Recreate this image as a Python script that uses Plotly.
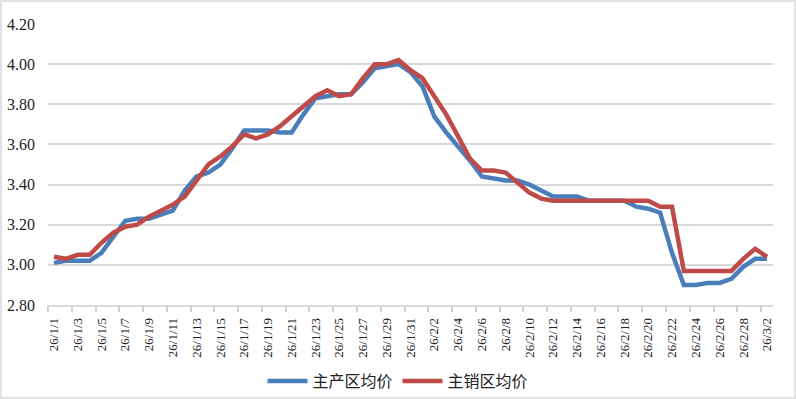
import pandas as pd
import plotly.graph_objects as go

# ---- data ----
dates = [f"26/{d.month}/{d.day}" for d in pd.date_range("2026-01-01", "2026-03-02", freq="D")]

main_prod = [3.01, 3.02, 3.02, 3.02, 3.06, 3.14, 3.22, 3.23, 3.23, 3.25,
             3.27, 3.37, 3.44, 3.46, 3.50, 3.58, 3.67, 3.67, 3.67, 3.66,
             3.66, 3.75, 3.83, 3.84, 3.85, 3.85, 3.91, 3.98, 3.99, 4.00,
             3.96, 3.89, 3.74, 3.66, 3.59, 3.52, 3.44, 3.43, 3.42, 3.42,
             3.40, 3.37, 3.34, 3.34, 3.34, 3.32, 3.32, 3.32, 3.32, 3.29,
             3.28, 3.26, 3.06, 2.90, 2.90, 2.91, 2.91, 2.93, 2.99, 3.03,
             3.03]

main_sales = [3.04, 3.03, 3.05, 3.05, 3.11, 3.16, 3.19, 3.20, 3.24, 3.27,
              3.30, 3.34, 3.42, 3.50, 3.54, 3.59, 3.65, 3.63, 3.65, 3.69,
              3.74, 3.79, 3.84, 3.87, 3.84, 3.85, 3.93, 4.00, 4.00, 4.02,
              3.97, 3.93, 3.84, 3.75, 3.64, 3.53, 3.47, 3.47, 3.46, 3.41,
              3.36, 3.33, 3.32, 3.32, 3.32, 3.32, 3.32, 3.32, 3.32, 3.32,
              3.32, 3.29, 3.29, 2.97, 2.97, 2.97, 2.97, 2.97, 3.03, 3.08,
              3.04]

series_names = ["主产区均价", "主销区均价"]
y_ticks = [2.80, 3.00, 3.20, 3.40, 3.60, 3.80, 4.00, 4.20]

# ---- figure ----
idx = list(range(len(dates)))
label_idx = idx[::2]
label_txt = [dates[i] for i in label_idx]
boundary_vals = [i - 0.5 for i in label_idx]

W, H = 796, 399
ML, MR, MT, MB = 48, 23, 24, 94
pw = W - ML - MR
ph = H - MT - MB

fig = go.Figure()
fig.add_trace(go.Scatter(x=idx, y=main_prod, name=series_names[0], mode="lines",
                         line=dict(color="#4a7ebb", width=4.5)))
fig.add_trace(go.Scatter(x=idx, y=main_sales, name=series_names[1], mode="lines",
                         line=dict(color="#be4b48", width=4.5)))
# invisible trace to carry the boundary tick axis
fig.add_trace(go.Scatter(x=[], y=[], xaxis="x2", showlegend=False, hoverinfo="skip"))

xr = [-0.5, len(dates) - 0.5]
serif = "Liberation Serif, Times New Roman, serif"

fig.update_layout(
    width=W, height=H,
    margin=dict(l=ML, r=MR, t=MT, b=MB, autoexpand=False),
    paper_bgcolor="white", plot_bgcolor="white",
    showlegend=True,
    legend=dict(orientation="h", xref="container", yref="container",
                x=0.5, xanchor="center", y=1 - 381 / H, yanchor="middle",
                font=dict(family="Noto Sans CJK SC", size=16, color="#222"),
                itemwidth=40, traceorder="normal", bgcolor="rgba(0,0,0,0)"),
    xaxis=dict(range=xr, tickmode="array", tickvals=label_idx, ticktext=label_txt,
               tickangle=-90, ticks="", showgrid=False, zeroline=False,
               showline=True, linecolor="#d9d9d9", linewidth=1.5, automargin=False,
               tickfont=dict(family=serif, size=13, color="#222"),
               ticklabelstandoff=6),
    xaxis2=dict(range=xr, overlaying="x", side="bottom", anchor="y", automargin=False,
                tickmode="array", tickvals=boundary_vals, ticktext=[""] * len(boundary_vals),
                ticks="outside", ticklen=6, tickwidth=1.5, tickcolor="#d0d0d0",
                showgrid=False, zeroline=False, showline=False, showticklabels=False),
    yaxis=dict(range=[y_ticks[0], y_ticks[-1]], tickmode="array", tickvals=y_ticks,
               tickformat=".2f", showgrid=True, gridcolor="#d9d9d9", gridwidth=1.5,
               zeroline=False, showline=False, ticks="", automargin=False,
               tickfont=dict(family=serif, size=16, color="#222"),
               ticklabelstandoff=12),
    shapes=[dict(type="rect", xref="paper", yref="paper",
                 x0=-(ML - 1) / pw, x1=1 + (MR - 1) / pw,
                 y0=-(MB - 1) / ph, y1=1 + (MT - 1) / ph,
                 line=dict(color="#d9d9d9", width=1.5), fillcolor="rgba(0,0,0,0)",
                 layer="below")],
)

fig.write_html("out.html", config={"displayModeBar": False},
               post_script="document.body.style.margin='0';document.body.style.padding='0';")
